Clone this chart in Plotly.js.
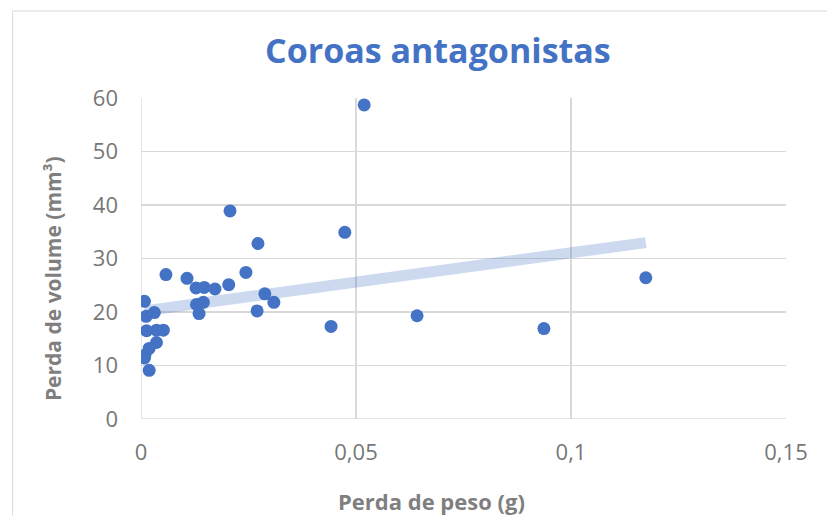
<!DOCTYPE html>
<html><head><meta charset="utf-8">
<script src="https://cdn.plot.ly/plotly-3.0.1.min.js"></script>
<style>body{margin:0;padding:0;}#chart{width:827px;height:516px;}</style>
</head><body><div id="chart"></div>
<script>
var pesoPerda = [0.0519,0.0207,0.0474,0.0272,0.0058,0.0107,0.0244,0.1174,0.0128,0.0147,0.0172,0.0204,0.0288,0.0008,0.0129,0.0145,0.0309,0.0135,0.0270,0.0012,0.0031,0.0642,0.0442,0.0937,0.0013,0.0036,0.0052,0.0036,0.0019,0.0009,0.0008,0.0019];
var volumePerda = [58.7,38.9,34.9,32.8,27.0,26.3,27.4,26.4,24.5,24.6,24.3,25.1,23.4,22.0,21.4,21.8,21.8,19.7,20.2,19.2,19.9,19.3,17.3,16.9,16.5,16.6,16.6,14.3,13.2,11.9,11.4,9.1];
var xTicks = [0,0.05,0.1,0.15];
var yTicks = [0,10,20,30,40,50,60];
var chartTitle = 'Coroas antagonistas';
var xTitle = 'Perda de peso (g)';
var yTitle = 'Perda de volume (mm³)';

// linear trendline from least squares
var n = pesoPerda.length, sx=0, sy=0, sxx=0, sxy=0;
for (var i=0;i<n;i++){sx+=pesoPerda[i];sy+=volumePerda[i];sxx+=pesoPerda[i]*pesoPerda[i];sxy+=pesoPerda[i]*volumePerda[i];}
var slope=(n*sxy-sx*sy)/(n*sxx-sx*sx), icpt=(sy-slope*sx)/n;
var xmin=Math.min.apply(null,pesoPerda), xmax=Math.max.apply(null,pesoPerda);
var trendX=[xmin,xmax], trendY=[icpt+slope*xmin, icpt+slope*xmax];

var traces = [
 {x:trendX,y:trendY,mode:'lines',line:{color:'rgba(68,114,196,0.27)',width:11},hoverinfo:'skip',showlegend:false},
 {x:pesoPerda,y:volumePerda,mode:'markers',marker:{color:'#4472C4',size:13},showlegend:false}
];
var tickGray='#777777', titleGray='#7f7f7f';
var fam='"Open Sans", "Noto Sans", sans-serif';
var layout = {
 width:827,height:516,
 margin:{l:141,r:41,t:98,b:97},
 paper_bgcolor:'#ffffff',plot_bgcolor:'#ffffff',
 font:{family:fam,color:tickGray},
 xaxis:{range:[0,0.15],tickvals:xTicks,ticktext:xTicks.map(function(v){return String(v).replace('.',',');}),
   showgrid:true,gridcolor:'#d9d9d9',gridwidth:1.3,zeroline:false,showline:false,ticks:'',
   tickfont:{size:22,color:tickGray},ticklabelstandoff:18},
 yaxis:{range:[0,60],tickvals:yTicks,showgrid:true,gridcolor:'#d9d9d9',gridwidth:1.3,zeroline:false,showline:false,ticks:'',
   tickfont:{size:22,color:tickGray},ticklabelstandoff:22},
 annotations:[
  {text:'<b>'+chartTitle+'</b>',xref:'paper',yref:'paper',x:0.461,y:1.1495,xanchor:'center',yanchor:'middle',showarrow:false,font:{size:34,color:'#4472C4',family:fam}},
  {text:'<b>'+xTitle+'</b>',xref:'paper',yref:'paper',x:0.451,y:-0.2555,xanchor:'center',yanchor:'middle',showarrow:false,font:{size:22,color:titleGray,family:fam}},
  {text:'<b>'+yTitle+'</b>',xref:'paper',yref:'paper',x:-0.1364,y:0.436,xanchor:'center',yanchor:'middle',textangle:-90,showarrow:false,font:{size:21,color:titleGray,family:fam}}
 ],
 shapes:[
  {type:'line',xref:'x',yref:'paper',x0:0,x1:0,y0:0,y1:1,line:{color:'#d9d9d9',width:1.3},layer:'below'},
  {type:'line',xref:'paper',yref:'y',x0:0,x1:1,y0:0,y1:0,line:{color:'#d9d9d9',width:1.3},layer:'below'},
  {type:'rect',xref:'paper',yref:'paper',x0:-0.199,x1:1.1,y0:-0.5,y1:1.271,line:{color:'#d9d9d9',width:1},layer:'below'}
 ]
};
Plotly.newPlot('chart',traces,layout,{displayModeBar:false,staticPlot:true});
</script></body></html>
